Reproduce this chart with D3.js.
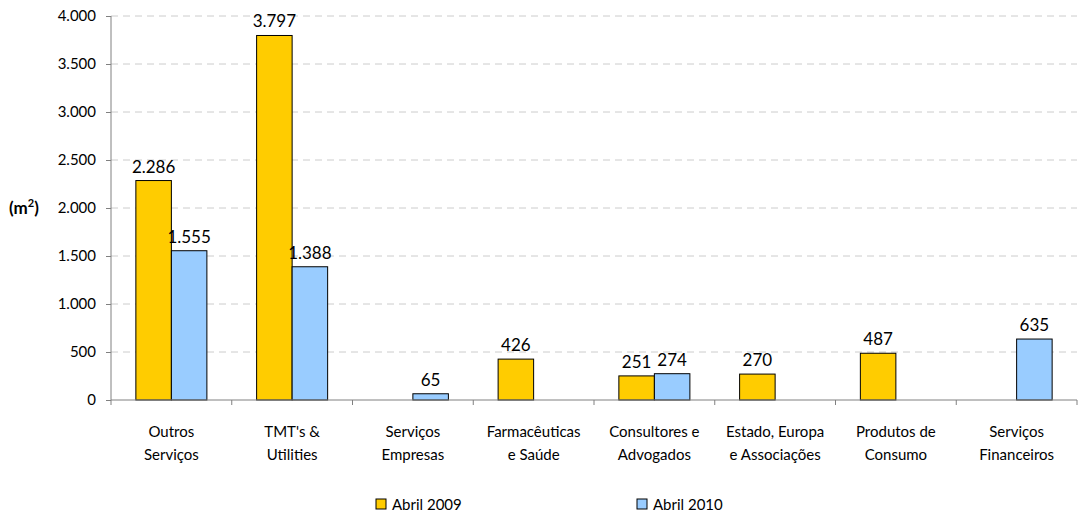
<!DOCTYPE html>
<html lang="pt">
<head>
    <meta charset="UTF-8" />
    <title>Área por setor</title>
    <script src="https://d3js.org/d3.v7.min.js"></script>
    <style>
        body { margin: 0; background: #fff; }
        text { font-family: Lato, "Open Sans", sans-serif; fill: #000; }
        .grid line { stroke: #cccccc; stroke-dasharray: 7,5; }
        .bar { stroke: #000; stroke-width: 1; }
    </style>
</head>
<body>
    <div id="chart"></div>
    <script>
        var width = 1089, height = 521;

        // Dados
        const categorias = [
            ["Outros", "Serviços"],
            ["TMT's &", "Utilities"],
            ["Serviços", "Empresas"],
            ["Farmacêuticas", "e Saúde"],
            ["Consultores e", "Advogados"],
            ["Estado, Europa", "e Associações"],
            ["Produtos de", "Consumo"],
            ["Serviços", "Financeiros"]
        ];
        const abril2009 = [2286, 3797, null, 426, 251, 270, 487, null];
        const abril2010 = [1555, 1388, 65, null, 274, null, null, 635];
        const series = ["Abril 2009", "Abril 2010"];
        const cores = ["#ffcc00", "#99ccff"];
        const yTicks = [0, 500, 1000, 1500, 2000, 2500, 3000, 3500, 4000];

        const margin = { left: 111, right: 12, top: 16, bottom: 121 };

        let svg = d3.select("#chart").append("svg")
            .attr("width", width)
            .attr("height", height);

        var x = d3.scaleBand()
            .domain(d3.range(categorias.length))
            .range([margin.left, width - margin.right]);

        var xSub = d3.scaleBand()
            .domain([0, 1])
            .range([0, x.bandwidth()])
            .paddingOuter(0.7)
            .paddingInner(0);

        var y = d3.scaleLinear()
            .domain([0, 4000])
            .range([height - margin.bottom, margin.top]);

        var fmt = d => d3.format(",")(d).replace(/,/g, ".");

        // grelha tracejada
        svg.append("g").attr("class", "grid")
            .selectAll("line")
            .data(yTicks.filter(d => d > 0))
            .enter().append("line")
            .attr("x1", margin.left).attr("x2", width - margin.right)
            .attr("y1", d => y(d)).attr("y2", d => y(d));

        // barras
        const dados = [abril2009, abril2010];
        dados.forEach((serie, s) => {
            svg.append("g").selectAll("rect")
                .data(serie.map((v, i) => ({ v, i })).filter(d => d.v !== null))
                .enter().append("rect")
                .attr("class", "bar")
                .attr("x", d => x(d.i) + xSub(s))
                .attr("width", xSub.bandwidth())
                .attr("y", d => y(d.v))
                .attr("height", d => y(0) - y(d.v))
                .attr("fill", cores[s]);

            svg.append("g").selectAll("text")
                .data(serie.map((v, i) => ({ v, i })).filter(d => d.v !== null))
                .enter().append("text")
                .attr("x", d => x(d.i) + xSub(s) + xSub.bandwidth() / 2)
                .attr("y", d => y(d.v) - 8)
                .attr("text-anchor", "middle")
                .style("font-size", "17px")
                .text(d => fmt(d.v));
        });

        // eixo y
        let eixoY = svg.append("g")
            .attr("transform", `translate(${margin.left},0)`)
            .call(d3.axisLeft(y).tickValues(yTicks).tickSize(5).tickPadding(10).tickFormat(fmt));
        eixoY.select(".domain").attr("stroke", "#808080").attr("d", `M-0,${y(4000)}V${y(0)}`);
        eixoY.selectAll(".tick line").attr("stroke", "#808080");
        eixoY.selectAll("text").style("font-size", "15px");

        // eixo x
        let eixoX = svg.append("g")
            .attr("transform", `translate(0,${y(0)})`);
        eixoX.append("line")
            .attr("x1", margin.left).attr("x2", width - margin.right)
            .attr("stroke", "#808080");
        eixoX.selectAll(".tk")
            .data(d3.range(categorias.length + 1))
            .enter().append("line")
            .attr("x1", d => d < categorias.length ? x(d) : x(d - 1) + x.bandwidth())
            .attr("x2", d => d < categorias.length ? x(d) : x(d - 1) + x.bandwidth())
            .attr("y1", 0).attr("y2", 5)
            .attr("stroke", "#808080");

        categorias.forEach((linhas, i) => {
            let t = svg.append("text")
                .attr("text-anchor", "middle")
                .attr("x", x(i) + x.bandwidth() / 2)
                .attr("y", y(0) + 37)
                .style("font-size", "15px");
            linhas.forEach((l, j) => {
                t.append("tspan")
                    .attr("x", x(i) + x.bandwidth() / 2)
                    .attr("dy", j === 0 ? 0 : 23)
                    .text(l);
            });
        });

        // título eixo y
        let tituloY = svg.append("text")
            .attr("x", 9).attr("y", y(2000) + 6)
            .style("font-size", "17px").style("font-weight", "bold");
        tituloY.append("tspan").text("(m");
        tituloY.append("tspan").attr("dy", -7).style("font-size", "11px").text("2");
        tituloY.append("tspan").attr("dy", 7).text(")");

        // legenda
        const legX = [376, 637];
        series.forEach((nome, s) => {
            svg.append("rect")
                .attr("x", legX[s]).attr("y", 499)
                .attr("width", 10).attr("height", 10)
                .attr("fill", cores[s]).attr("stroke", "#000");
            svg.append("text")
                .attr("x", legX[s] + 16).attr("y", 510)
                .style("font-size", "15px")
                .text(nome);
        });
    </script>
</body>
</html>
